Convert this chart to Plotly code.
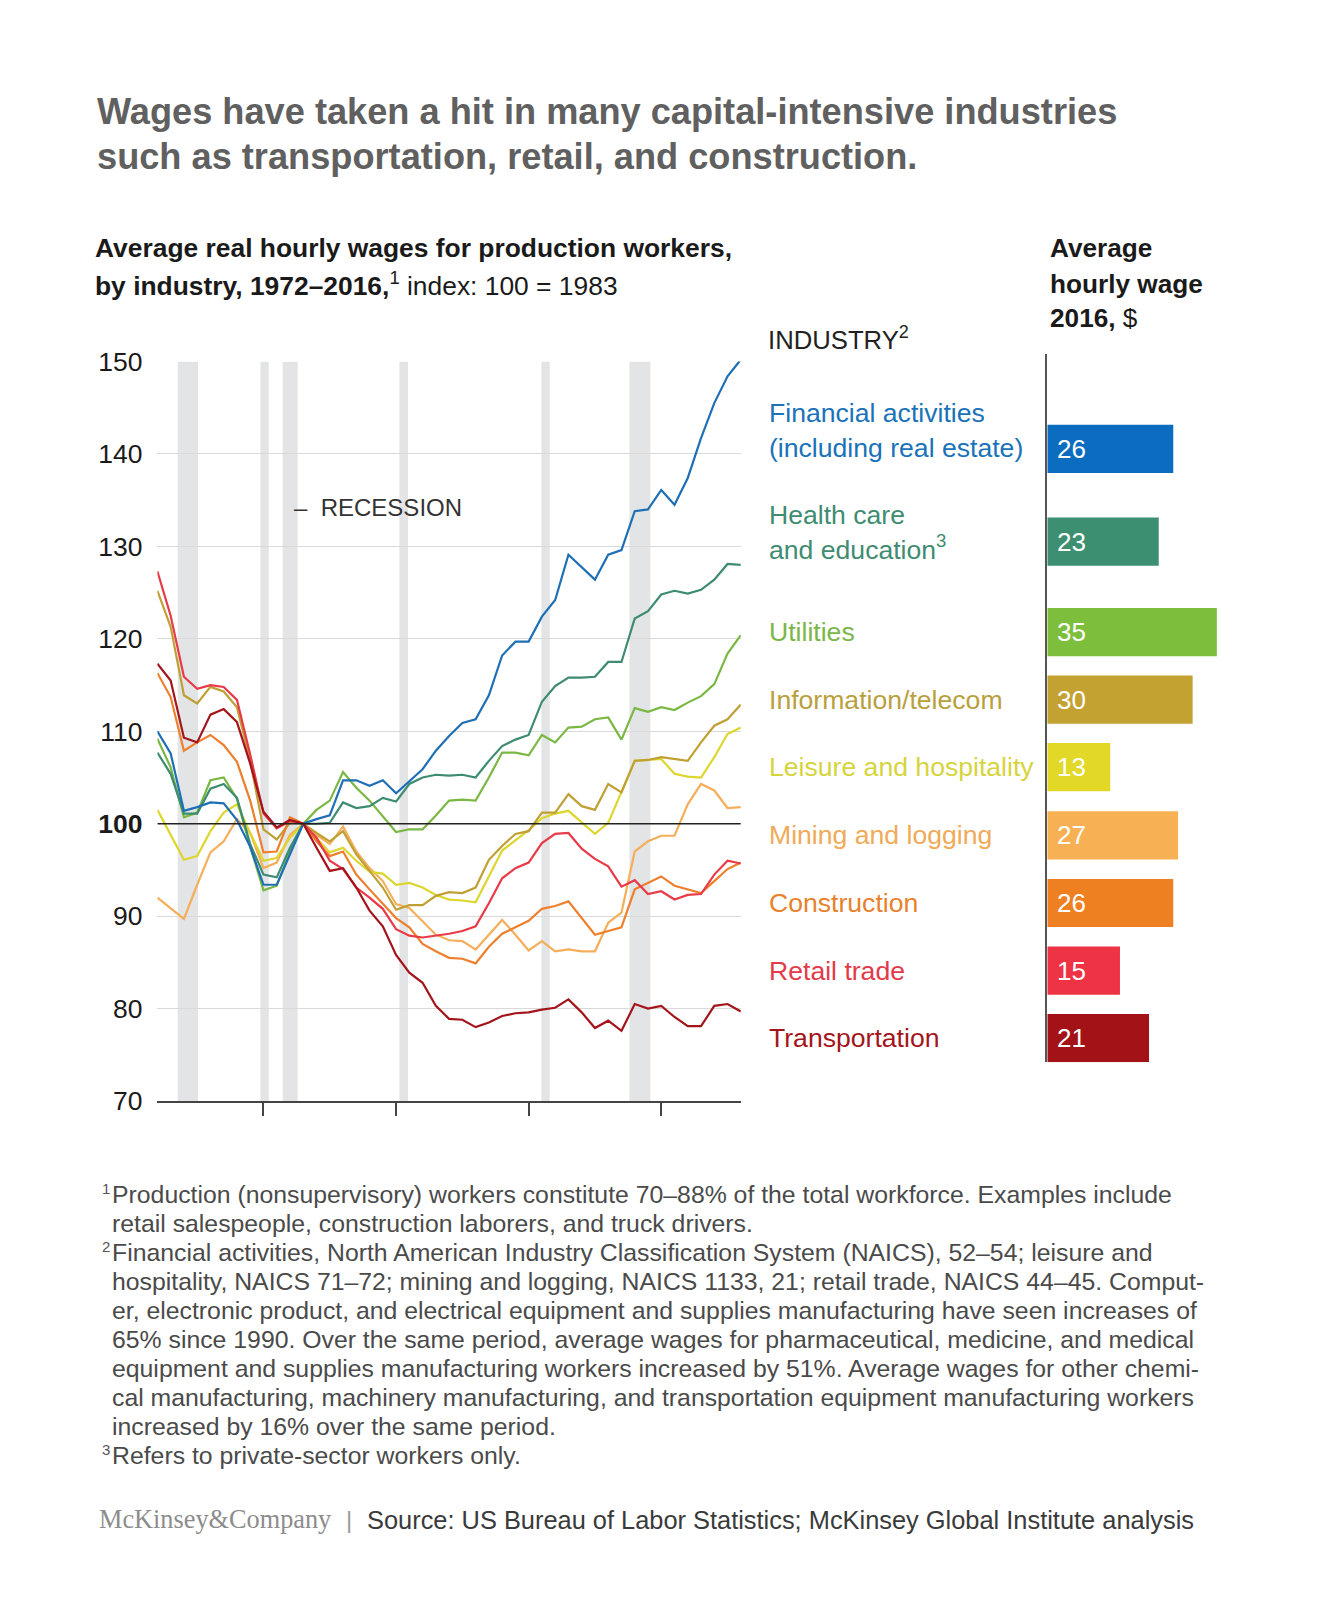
import plotly.graph_objects as go

W, H = 1325, 1600

# ---------------- data ----------------
years = list(range(1972, 2017))

financial = [110.0, 107.6, 101.4, 101.8, 102.3, 102.2, 100.4, 97.5, 93.4, 93.4, 96.7, 100.0,
             100.5, 100.9, 104.7, 104.7, 104.1, 104.7, 103.3, 104.6, 105.9, 107.9, 109.5, 110.9,
             111.3, 113.9, 118.2, 119.7, 119.7, 122.4, 124.2, 129.1, 127.8, 126.4, 129.1, 129.6,
             133.8, 134.0, 136.1, 134.5, 137.4, 141.7, 145.5, 148.4, 150.2]
health = [107.7, 105.4, 101.1, 101.1, 103.8, 104.3, 102.8, 97.8, 94.5, 94.2, 97.4, 100.0,
          100.0, 100.1, 102.3, 101.7, 101.9, 102.8, 102.4, 104.3, 105.0, 105.3, 105.2, 105.3,
          105.0, 106.8, 108.4, 109.1, 109.6, 113.2, 114.9, 115.8, 115.8, 115.9, 117.5, 117.5,
          122.2, 123.0, 124.8, 125.2, 124.9, 125.3, 126.4, 128.1, 128.0]
utilities = [109.2, 106.1, 100.7, 101.2, 104.7, 105.0, 102.7, 97.5, 92.8, 93.3, 97.0, 100.0,
             101.5, 102.5, 105.6, 103.9, 102.5, 100.8, 99.1, 99.4, 99.4, 100.9, 102.5, 102.6,
             102.5, 105.0, 107.7, 107.7, 107.4, 109.6, 108.8, 110.4, 110.5, 111.3, 111.5, 109.1,
             112.5, 112.1, 112.6, 112.3, 113.1, 113.8, 115.1, 118.4, 120.4]
information = [125.2, 121.3, 113.9, 113.0, 114.8, 114.3, 112.6, 106.8, 99.4, 98.3, 100.1, 100.0,
               99.0, 98.1, 99.2, 96.7, 94.9, 93.1, 90.7, 91.2, 91.2, 92.2, 92.6, 92.5,
               93.1, 96.1, 97.6, 98.9, 99.2, 101.2, 101.2, 103.2, 101.9, 101.5, 104.3, 103.4,
               106.8, 106.9, 107.2, 107.0, 106.8, 108.8, 110.6, 111.3, 112.9]
leisure = [101.5, 98.8, 96.1, 96.5, 99.2, 101.2, 102.1, 99.0, 96.0, 96.3, 98.5, 100.0,
           98.5, 96.9, 97.4, 96.0, 94.8, 94.6, 93.4, 93.6, 93.1, 92.3, 91.8, 91.7,
           91.5, 94.3, 97.1, 98.2, 99.3, 100.6, 101.1, 101.4, 100.1, 98.9, 100.1, 103.4,
           106.8, 106.9, 107.0, 105.4, 105.1, 105.0, 107.2, 109.7, 110.4]
mining = [92.0, 90.9, 89.7, 93.4, 96.9, 98.1, 100.5, 99.0, 95.2, 95.8, 98.8, 100.0,
          98.8, 97.8, 99.7, 97.0, 95.2, 93.8, 91.3, 90.9, 89.5, 88.0, 87.4, 87.3,
          86.4, 88.0, 89.6, 88.0, 86.3, 87.3, 86.2, 86.4, 86.2, 86.2, 89.3, 90.4,
          97.0, 98.1, 98.7, 98.7, 102.1, 104.3, 103.6, 101.7, 101.8]
construction = [116.3, 113.7, 107.9, 108.8, 109.6, 108.5, 106.7, 102.5, 96.9, 97.0, 100.7, 100.0,
                98.1, 96.5, 97.0, 94.5, 92.9, 91.3, 89.8, 88.8, 87.0, 86.2, 85.5, 85.4,
                84.9, 86.7, 88.1, 88.8, 89.5, 90.8, 91.1, 91.6, 89.8, 88.0, 88.4, 88.8,
                92.9, 93.6, 94.3, 93.3, 92.9, 92.5, 93.8, 95.1, 95.8]
retail = [127.3, 122.5, 115.9, 114.6, 115.0, 114.8, 113.4, 107.5, 101.1, 99.5, 100.3, 100.0,
          98.5, 96.0, 95.1, 93.1, 92.0, 90.8, 88.6, 87.9, 87.7, 87.9, 88.1, 88.4,
          88.9, 91.4, 94.1, 95.2, 95.8, 97.9, 98.9, 99.0, 97.3, 96.2, 95.4, 93.2,
          93.9, 92.4, 92.7, 91.8, 92.3, 92.4, 94.5, 96.0, 95.7]
transportation = [117.3, 115.5, 109.3, 108.8, 111.8, 112.4, 111.0, 106.5, 101.3, 99.6, 100.4, 100.0,
                  97.4, 94.9, 95.2, 93.1, 90.6, 88.9, 85.8, 83.9, 82.8, 80.3, 78.9, 78.8,
                  78.0, 78.5, 79.2, 79.5, 79.6, 79.9, 80.1, 81.0, 79.6, 77.9, 78.7, 77.6,
                  80.5, 80.0, 80.3, 79.1, 78.1, 78.1, 80.3, 80.5, 79.7]

industry_labels = ["Financial activities<br>(including real estate)",
                   "Health care<br>and education<sup>3</sup>",
                   "Utilities", "Information/telecom", "Leisure and hospitality",
                   "Mining and logging", "Construction", "Retail trade", "Transportation"]
wage_2016 = [26, 23, 35, 30, 13, 27, 26, 15, 21]

recessions = [(1973.53, 1975.07), (1979.77, 1980.4), (1981.45, 1982.58),
              (1990.25, 1990.9), (2000.96, 2001.59), (2007.6, 2009.18)]

y_ticks = [70, 80, 90, 100, 110, 120, 130, 140, 150]
x_ticks = [1980, 1990, 2000, 2010]

# ---------------- styles ----------------
series = [financial, health, utilities, information, leisure, mining, construction, retail, transportation]
line_colors = ['#1f6fb5', '#3e8c70', '#7ab843', '#bfa035', '#dcd62e', '#f5ae5a', '#ee7f2d', '#e83a47', '#a3151b']
bar_colors = ['#0b6cc0', '#3d8f72', '#7dbe3c', '#c3a232', '#e2d827', '#f7b154', '#ef8022', '#ee3344', '#a31217']
label_colors = ['#1a72b8', '#3f8c72', '#7ab648', '#b9a03e', '#d6d43c', '#f0aa58', '#e8812e', '#e33a4a', '#a3151b']
row_pos = [0, 1.37, 2.71, 3.71, 4.71, 5.72, 6.72, 7.72, 8.72]
label_yshift = [18, 9, 0, 0, 0, 0, 0, 0, 0]

FONT = "Liberation Sans, Arial, Helvetica, sans-serif"

# vertical layout correction (measured from the rendered output)
VK, VC = 1.0186, -13.6


def Y(t):
    return VK * t + VC


def px(x):
    return x / W


def py(t):
    return 1 - Y(t) / H


fig = go.Figure()

order = [5, 4, 3, 2, 1, 0, 6, 7, 8]
for i in order:
    fig.add_trace(go.Scatter(x=years, y=series[i], mode='lines',
                             line=dict(color=line_colors[i], width=2.2),
                             hoverinfo='skip', showlegend=False, xaxis='x', yaxis='y'))

fig.add_trace(go.Bar(x=wage_2016, y=row_pos, orientation='h', width=0.714,
                     marker=dict(color=bar_colors, line=dict(width=0)),
                     hoverinfo='skip', showlegend=False, xaxis='x2', yaxis='y2'))

shapes = []
for s, e in recessions:
    shapes.append(dict(type='rect', xref='x', yref='y', x0=s, x1=e, y0=70, y1=150,
                       fillcolor='#e3e4e6', line=dict(width=0), layer='below'))
shapes.append(dict(type='line', xref='x', yref='y', x0=1972, x1=2016, y0=100, y1=100,
                   line=dict(color='#222222', width=1.4), layer='above'))

annotations = []


def text(x, y, t, size, color='#222222', anchor='left', yanchor='middle', family=FONT):
    annotations.append(dict(xref='paper', yref='paper', x=px(x), y=py(y), text=t,
                            showarrow=False, xanchor=anchor, yanchor=yanchor,
                            font=dict(size=size, color=color, family=family), align='left'))


# title
text(95, 110, "<b>Wages have taken a hit in many capital-intensive industries</b>", 36.2, '#606060')
text(95, 155, "<b>such as transportation, retail, and construction.</b>", 36.2, '#606060')

# subtitle
text(93, 246, "<b>Average real hourly wages for production workers,</b>", 26.4, '#1a1a1a')
text(93, 282, "<b>by industry, 1972–2016,</b><sup>1</sup> index: 100 = 1983", 26.4, '#1a1a1a')

# right header
text(1048, 246, "<b>Average</b>", 26.2, '#1a1a1a')
text(1048, 282, "<b>hourly wage</b>", 26.2, '#1a1a1a')
text(1048, 317, "<b>2016,</b> $", 26.2, '#1a1a1a')

text(766, 337, "INDUSTRY<sup>2</sup>", 25.7, '#222222')

# recession legend
text(292, 506, "–  RECESSION", 24, '#333333')

# industry labels and bar values
for i, lab in enumerate(industry_labels):
    annotations.append(dict(xref='paper', yref='y2', x=px(767), y=row_pos[i], text=lab,
                            showarrow=False, xanchor='left', yanchor='middle', align='left',
                            yshift=label_yshift[i] * VK,
                            font=dict(size=26.6, color=label_colors[i], family=FONT)))
    annotations.append(dict(xref='x2', yref='y2', x=0, y=row_pos[i], text=str(wage_2016[i]),
                            showarrow=False, xanchor='left', yanchor='middle', xshift=8,
                            font=dict(size=26, color='white', family=FONT)))

# footnotes
foot = [
    ("1", "Production (nonsupervisory) workers constitute 70–88% of the total workforce. Examples include"),
    ("", "retail salespeople, construction laborers, and truck drivers."),
    ("2", "Financial activities, North American Industry Classification System (NAICS), 52–54; leisure and"),
    ("", "hospitality, NAICS 71–72; mining and logging, NAICS 1133, 21; retail trade, NAICS 44–45. Comput-"),
    ("", "er, electronic product, and electrical equipment and supplies manufacturing have seen increases of"),
    ("", "65% since 1990. Over the same period, average wages for pharmaceutical, medicine, and medical"),
    ("", "equipment and supplies manufacturing workers increased by 51%. Average wages for other chemi-"),
    ("", "cal manufacturing, machinery manufacturing, and transportation equipment manufacturing workers"),
    ("", "increased by 16% over the same period."),
    ("3", "Refers to private-sector workers only."),
]
for k, (sup, line) in enumerate(foot):
    yy = 1193 + k * 29.1
    if sup:
        text(100, yy - 6, sup, 15, '#555555')
    text(110, yy, line, 24.8, '#4a4a4a')

# footer
text(97, 1519, "McKinsey&amp;Company", 26.3, '#8c8c8c', family="Liberation Serif, Times New Roman, serif")
text(344, 1519, "|", 24, '#9a9a9a')
text(365, 1519, "Source: US Bureau of Labor Statistics; McKinsey Global Institute analysis", 25.4, '#3a3a3a')

fig.update_layout(
    width=W, height=H,
    margin=dict(l=0, r=0, t=0, b=0),
    paper_bgcolor='white', plot_bgcolor='rgba(0,0,0,0)',
    font=dict(family=FONT),
    showlegend=False,
    xaxis=dict(domain=[px(157.4), px(740.8)], range=[1972, 2016], showgrid=False,
               zeroline=False, showline=True, linecolor='#444444', linewidth=1.5,
               tickmode='array', tickvals=x_ticks, ticks='outside', ticklen=13,
               tickwidth=1.5, tickcolor='#444444', showticklabels=False, fixedrange=True),
    yaxis=dict(domain=[py(1100), py(360)], range=[70, 150], showgrid=True,
               gridcolor='#d9d9d9', gridwidth=1, zeroline=False, showline=False,
               tickmode='array', tickvals=y_ticks,
               ticktext=[("<b>%d</b>" % v) if v == 100 else str(v) for v in y_ticks],
               tickfont=dict(size=26.5, color='#1a1a1a', family=FONT), ticks='',
               ticklabelstandoff=14, fixedrange=True),
    xaxis2=dict(domain=[px(1047.3), px(1300)], range=[0, 52.16], anchor='y2',
                showgrid=False, zeroline=False, showline=False, showticklabels=False,
                ticks='', fixedrange=True),
    yaxis2=dict(domain=[py(1061), py(353)], range=[9.075, -1.398], anchor='x2',
                showgrid=False, zeroline=False, showline=True, linecolor='#555555',
                linewidth=1.5, showticklabels=False, ticks='', fixedrange=True),
    shapes=shapes,
    annotations=annotations,
)

post = ("document.documentElement.style.margin='0';"
        "document.documentElement.style.overflow='hidden';"
        "document.body.style.margin='0';"
        "document.body.style.overflow='hidden';"
        "var gd=document.getElementById('{plot_id}');"
        "gd.style.position='fixed';gd.style.top='0px';gd.style.left='0px';")

fig.write_html("out.html", config={'displayModeBar': False}, post_script=post)
